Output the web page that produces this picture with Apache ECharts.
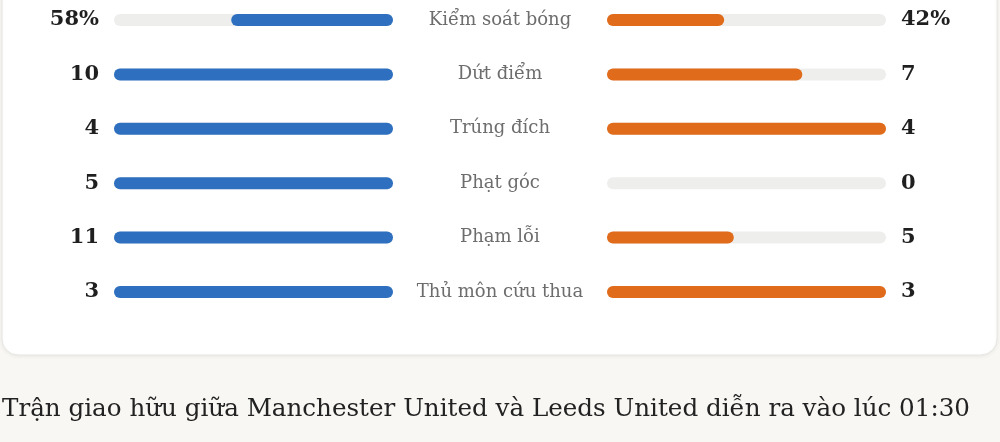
<!DOCTYPE html>
<html>
<head>
<meta charset="utf-8">
<script src="https://cdn.jsdelivr.net/npm/echarts@6/dist/echarts.min.js"></script>
<style>
  html, body { margin: 0; padding: 0; background: #f8f7f3; }
  #chart { width: 1000px; height: 442px; }
</style>
</head>
<body>
<div id="chart"></div>
<script>
// thống kê trận đấu
var categories = ['Kiểm soát bóng', 'Dứt điểm', 'Trúng đích', 'Phạt góc', 'Phạm lỗi', 'Thủ môn cứu thua']
var homeValues = [58, 10, 4, 5, 11, 3]
var awayValues = [42, 7, 4, 0, 5, 3]
var isPercent = [true, false, false, false, false, false]
var caption = 'Trận giao hữu giữa Manchester United và Leeds United diễn ra vào lúc 01:30'

var SERIF = '"DejaVu Serif", "Liberation Serif", serif'

function ratio(v, i) {
  var total = isPercent[i] ? 100 : Math.max(homeValues[i], awayValues[i])
  return total ? v / total : 0
}
function fmt(v, i) {
  return isPercent[i] ? v + '%' : String(v)
}

var homeRatio = homeValues.map(ratio)
var awayRatio = awayValues.map(ratio)

var myChart = echarts.init(document.getElementById('chart'))

var valueLabel = {
  color: '#1f1f1f',
  fontFamily: SERIF,
  fontWeight: 'bold',
  fontSize: 21,
  padding: [4, 0, 0, 0]
}

function catAxis(grid, pos, extra) {
  return Object.assign({
    type: 'category',
    gridIndex: grid,
    data: categories,
    inverse: true,
    boundaryGap: false,
    position: pos,
    axisLine: { show: false, onZero: false },
    axisTick: { show: false },
    splitLine: { show: false }
  }, extra)
}

myChart.setOption({
  backgroundColor: '#f8f7f3',
  animation: false,
  graphic: [
    {
      type: 'rect',
      z: -10,
      shape: { x: 2, y: -30, width: 995, height: 385, r: 16 },
      style: {
        fill: '#ffffff',
        stroke: '#e7e6e1',
        lineWidth: 1,
        shadowBlur: 4,
        shadowColor: 'rgba(0,0,0,0.06)',
        shadowOffsetY: 1
      }
    },
    {
      type: 'text',
      left: 2,
      top: 397,
      style: {
        text: caption,
        fill: '#222222',
        font: '24.6px ' + SERIF
      }
    }
  ],
  grid: [
    { left: 114, width: 279, top: 20, height: 272 },
    { left: 607, width: 279, top: 20, height: 272 }
  ],
  xAxis: [
    { type: 'value', gridIndex: 0, min: 0, max: 1, inverse: true, show: false },
    { type: 'value', gridIndex: 1, min: 0, max: 1, show: false }
  ],
  yAxis: [
    catAxis(0, 'left', {
      axisLabel: Object.assign({
        margin: 15,
        formatter: function (v, i) { return fmt(homeValues[i], i) }
      }, valueLabel)
    }),
    catAxis(0, 'right', {
      axisLabel: {
        margin: 107,
        align: 'center',
        color: '#6d6d6d',
        fontFamily: SERIF,
        fontSize: 18,
        padding: [5, 0, 0, 0]
      }
    }),
    catAxis(1, 'right', {
      axisLabel: Object.assign({
        margin: 15,
        formatter: function (v, i) { return fmt(awayValues[i], i) }
      }, valueLabel)
    })
  ],
  series: [
    {
      name: 'Manchester United',
      type: 'bar',
      xAxisIndex: 0,
      yAxisIndex: 0,
      barWidth: 12,
      data: homeRatio,
      showBackground: true,
      backgroundStyle: { color: '#eeefed', borderRadius: 6 },
      itemStyle: { color: '#2e70bf', borderRadius: 6 }
    },
    {
      name: 'Leeds United',
      type: 'bar',
      xAxisIndex: 1,
      yAxisIndex: 2,
      barWidth: 12,
      data: awayRatio,
      showBackground: true,
      backgroundStyle: { color: '#eeefed', borderRadius: 6 },
      itemStyle: { color: '#e06b1b', borderRadius: 6 }
    }
  ]
})
</script>
</body>
</html>
